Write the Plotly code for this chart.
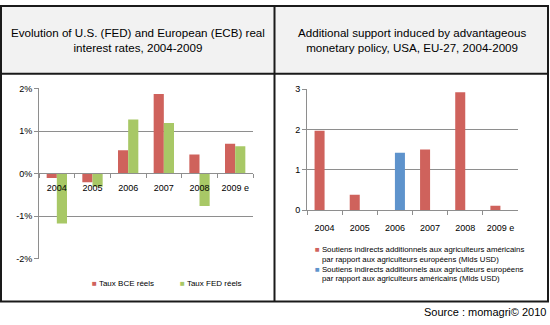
import plotly.graph_objects as go

W, H = 550, 325

# Category labels shared by both panels
years = ["2004", "2005", "2006", "2007", "2008", "2009 e"]

# Left panel: real interest rates (%)
bce_rates = [-0.10, -0.20, 0.55, 1.87, 0.45, 0.70]
fed_rates = [-1.17, -0.31, 1.27, 1.19, -0.76, 0.64]

# Right panel: additional indirect support (billion USD)
support_us = [1.97, 0.38, None, 1.50, 2.92, 0.11]
support_eu = [None, None, 1.42, None, None, None]

left_ticks = [-2, -1, 0, 1, 2]
left_tick_text = ["-2%", "-1%", "0%", "1%", "2%"]
right_ticks = [0, 1, 2, 3]

name_bce = "Taux BCE réels"
name_fed = "Taux FED réels"
name_us = ["Soutiens indirects additionnels aux agriculteurs américains",
           "par rapport aux agriculteurs européens (Mlds USD)"]
name_eu = ["Soutiens indirects additionnels aux agriculteurs européens",
           "par rapport aux agriculteurs américains (Mlds USD)"]

RED = "#CF625C"
GREEN = "#A8C866"
BLUE = "#5E93CC"
GRID = "#8E8E8E"
FONT = "Liberation Sans, Arial, sans-serif"


def px(x):
    return x / W


def py(y):
    return 1 - y / H


def key(color, text):
    # small square key followed by its label
    return f'<span style="color:{color}">■</span> {text}'


fig = go.Figure()

fig.add_trace(go.Bar(x=years, y=bce_rates, name=name_bce,
                     marker=dict(color=RED, line=dict(width=0)),
                     xaxis="x", yaxis="y"))
fig.add_trace(go.Bar(x=years, y=fed_rates, name=name_fed,
                     marker=dict(color=GREEN, line=dict(width=0)),
                     xaxis="x", yaxis="y"))
fig.add_trace(go.Bar(x=years, y=support_us, name=" ".join(name_us),
                     marker=dict(color=RED, line=dict(width=0)),
                     xaxis="x2", yaxis="y2"))
fig.add_trace(go.Bar(x=years, y=support_eu, name=" ".join(name_eu),
                     marker=dict(color=BLUE, line=dict(width=0)),
                     xaxis="x2", yaxis="y2"))

zero_left = 173

fig.update_layout(
    width=W, height=H,
    margin=dict(l=0, r=0, t=0, b=0),
    paper_bgcolor="white",
    plot_bgcolor="white",
    barmode="group",
    bargap=0.43,
    bargroupgap=0,
    showlegend=False,
    font=dict(family=FONT, size=9, color="#000000"),
    xaxis=dict(
        domain=[px(39), px(253)],
        anchor="free", position=py(zero_left),
        type="category", categoryorder="array", categoryarray=years,
        showline=True, linecolor=GRID, linewidth=1,
        ticks="outside", tickson="boundaries", ticklen=4, tickcolor=GRID,
        ticklabelstandoff=7, tickangle=0,
        showgrid=False, tickfont=dict(size=9),
    ),
    yaxis=dict(
        domain=[py(262), py(86)],
        anchor="x", range=[-2, 2],
        tickvals=left_ticks, ticktext=left_tick_text,
        showgrid=True, gridcolor=GRID, gridwidth=1,
        zeroline=False,
        showline=True, linecolor=GRID, linewidth=1,
        ticks="outside", ticklen=4, tickcolor=GRID,
        tickfont=dict(size=9),
    ),
    xaxis2=dict(
        domain=[px(307), px(518)],
        anchor="y2", type="category", categoryorder="array", categoryarray=years,
        showline=True, linecolor=GRID, linewidth=1,
        ticks="outside", tickson="boundaries", ticklen=4, tickcolor=GRID,
        ticklabelstandoff=9, tickangle=0,
        showgrid=False, tickfont=dict(size=9),
    ),
    yaxis2=dict(
        domain=[py(211.7), py(86.7)],
        anchor="x2", range=[0, 3],
        tickvals=right_ticks,
        showgrid=True, gridcolor=GRID, gridwidth=1,
        zeroline=False,
        showline=True, linecolor=GRID, linewidth=1,
        ticks="outside", ticklen=4, tickcolor=GRID,
        tickfont=dict(size=9),
    ),
)

# Frame, title band and panel separators
shapes = [
    dict(type="rect", xref="paper", yref="paper",
         x0=px(1), x1=px(548), y0=py(71), y1=py(1),
         fillcolor="#F2F2F2", line=dict(width=0), layer="below"),
    dict(type="rect", xref="paper", yref="paper",
         x0=px(1), x1=px(548), y0=py(306), y1=py(1),
         line=dict(color="#1A1A1A", width=2)),
    dict(type="line", xref="paper", yref="paper",
         x0=px(1), x1=px(548), y0=py(71), y1=py(71),
         line=dict(color="#1A1A1A", width=2)),
    dict(type="line", xref="paper", yref="paper",
         x0=px(274.5), x1=px(274.5), y0=py(306), y1=py(1),
         line=dict(color="#1A1A1A", width=2)),
]
fig.update_layout(shapes=shapes)

annotations = [
    dict(text="Evolution of U.S. (FED) and European (ECB) real<br>interest rates, 2004-2009",
         xref="paper", yref="paper", x=px(137.5), y=py(36.5),
         xanchor="center", yanchor="middle", showarrow=False,
         font=dict(size=11.6, family=FONT)),
    dict(text="Additional support induced by advantageous<br>monetary policy, USA, EU-27, 2004-2009",
         xref="paper", yref="paper", x=px(412), y=py(36.5),
         xanchor="center", yanchor="middle", showarrow=False,
         font=dict(size=11.6, family=FONT)),
    dict(text="Source : momagri© 2010",
         xref="paper", yref="paper", x=px(548), y=py(317),
         xanchor="right", yanchor="middle", showarrow=False,
         font=dict(size=11, family=FONT)),
]

# Key for the left panel, one row
for color, label, x_left in [(RED, name_bce, 90), (GREEN, name_fed, 178)]:
    annotations.append(dict(text=key(color, label),
                            xref="paper", yref="paper", x=px(x_left), y=py(287),
                            xanchor="left", yanchor="middle", showarrow=False,
                            font=dict(size=8, family=FONT)))

# Key for the right panel, two lines per series
for color, lines, y_first in [(RED, name_us, 252.0), (BLUE, name_eu, 272.4)]:
    annotations.append(dict(text=key(color, lines[0]),
                            xref="paper", yref="paper", x=px(313), y=py(y_first),
                            xanchor="left", yanchor="middle", showarrow=False,
                            font=dict(size=7.8, family=FONT)))
    annotations.append(dict(text=lines[1],
                            xref="paper", yref="paper", x=px(319.5), y=py(y_first + 10.2),
                            xanchor="left", yanchor="middle", showarrow=False,
                            font=dict(size=7.8, family=FONT)))
fig.update_layout(annotations=annotations)

fig.write_html("out.html")
